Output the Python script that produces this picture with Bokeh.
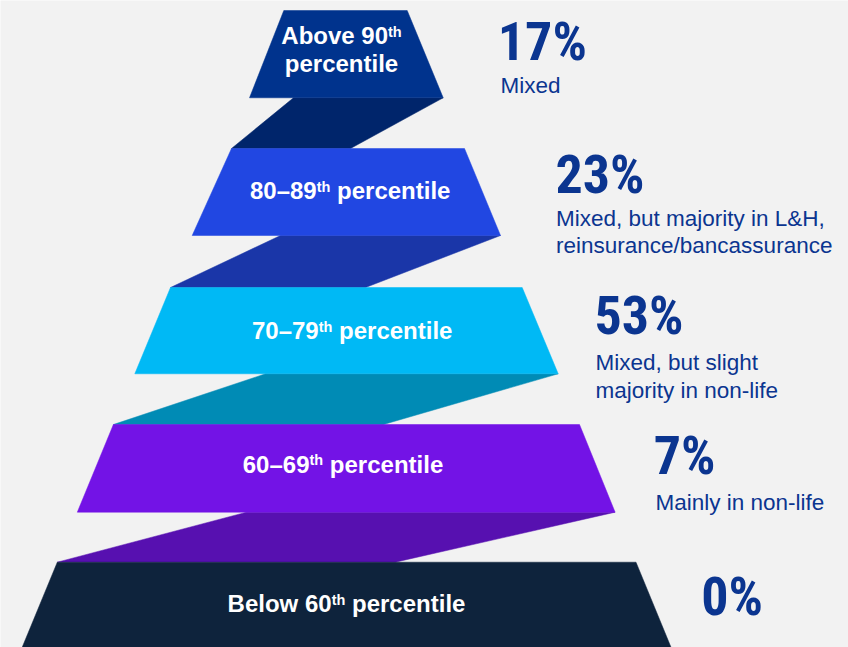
from bokeh.plotting import figure
from bokeh.models import Range1d
from bokeh.core.properties import value
from bokeh.embed import file_html
from bokeh.resources import INLINE

# ---------------- data ----------------
pre_labels = ["Above 90", "80\u201389", "70\u201379", "60\u201369", "Below 60"]
sup_labels = ["th", "th", "th", "th", "th"]
post_labels = ["", "percentile", "percentile", "percentile", "percentile"]
second_line = ["percentile", "", "", "", ""]
shares = [17, 23, 53, 7, 0]
descriptions = [
    ["Mixed"],
    ["Mixed, but majority in L&H,", "reinsurance/bancassurance"],
    ["Mixed, but slight", "majority in non-life"],
    ["Mainly in non-life"],
    [],
]

# ---------------- layout / style ----------------
BG = "#f2f2f2"
TXT = "#0b3590"
level_colors = ["#00338d", "#2147e2", "#00b9f5", "#7313e6", "#0e233c"]
ribbon_colors = ["#00256b", "#1a36a8", "#008bb5", "#5710b0"]

# trapezoids: top y, bottom y, top-left x, top-right x, bottom-left x, bottom-right x
traps = [
    (10.0, 97.3, 283.3, 406.7, 249.0, 442.7),
    (148.0, 235.0, 231.0, 464.0, 191.7, 500.0),
    (287.0, 373.3, 170.0, 521.7, 134.3, 557.7),
    (424.0, 511.7, 112.9, 579.0, 76.8, 614.6),
    (561.7, 647.0, 56.8, 635.5, 21.6, 670.6),
]
# ribbons: top-left x (on upper trap bottom), bottom-right x (on lower trap top)
ribbon_ends = [(293.0, 350.0), (280.0, 365.0), (265.0, 383.0), (246.0, 394.8)]

label_cx = [341.0, 349.7, 351.7, 342.5, 346.0]
label_base = [44.0, 199.0, 339.0, 472.7, 612.3]
line2_base = 71.7
MAIN_PX = 24.0
SUP_PX = 14.5
SUP_RAISE = 7.5

pct_x = [497.3, 555.0, 594.0, 653.3, 700.7]
pct_base = [61.0, 194.0, 335.0, 475.7, 616.0]
PCT_PX = 54.0
desc_x = [500.0, 555.5, 595.0, 655.0, 0.0]
desc_base = [93.3, 226.0, 370.7, 510.7, 0.0]
DESC_PX = 22.5
DESC_STEP = 27.5

# empirical baseline correction of the svg text renderer (em)
BFIX = 0.375

# Arial / Liberation Sans Bold advance widths (em)
W = {' ': 0.278, '\u2013': 0.556, 'A': 0.722, 'B': 0.722, 'b': 0.611, 'o': 0.611,
     'v': 0.556, 'e': 0.556, 'l': 0.278, 'w': 0.778, 'p': 0.611, 'r': 0.389,
     'c': 0.556, 'n': 0.611, 't': 0.333, 'i': 0.278, 'h': 0.611}
for d in "0123456789":
    W[d] = 0.556


def tw(s, px):
    return sum(W.get(ch, 0.556) for ch in s) * px


p = figure(width=848, height=647, x_range=Range1d(0, 848), y_range=Range1d(647, 0),
           output_backend="svg", toolbar_location=None, min_border=0)
p.axis.visible = False
p.grid.visible = False
p.outline_line_color = None
p.background_fill_color = BG
p.border_fill_color = BG

# ribbons
rxs, rys = [], []
for i, (tl, br) in enumerate(ribbon_ends):
    up = traps[i]
    lo = traps[i + 1]
    rxs.append([tl, up[5], br, lo[2]])
    rys.append([up[1], up[1], lo[0], lo[0]])
p.patches(rxs, rys, fill_color=ribbon_colors, line_color=ribbon_colors, line_width=0.5)

# trapezoids
txs, tys = [], []
for (ty, by, tl, tr, bl, br) in traps:
    txs.append([tl, tr, br, bl])
    tys.append([ty, ty, by, by])
p.patches(txs, tys, fill_color=level_colors, line_color=level_colors, line_width=0.5)

LBL_FONT = value("Liberation Sans")
SPACE = W[' '] * MAIN_PX


def put(x, y, t, px, **kw):
    p.text(x=x, y=[v - BFIX * px for v in y], text=t, text_font_size=f"{px}px",
           text_baseline="alphabetic", **kw)


# labels inside trapezoids
for i in range(len(pre_labels)):
    a, s, b = pre_labels[i], sup_labels[i], post_labels[i]
    total = tw(a, MAIN_PX) + tw(s, SUP_PX) + (SPACE + tw(b, MAIN_PX) if b else 0)
    x0 = label_cx[i] - total / 2
    y0 = label_base[i]
    put([x0], [y0], [a], MAIN_PX, text_color="white", text_font=LBL_FONT,
        text_font_style="bold", text_align="left")
    x1 = x0 + tw(a, MAIN_PX)
    put([x1], [y0 - SUP_RAISE], [s], SUP_PX, text_color="white", text_font=LBL_FONT,
        text_font_style="bold", text_align="left")
    if b:
        x2 = x1 + tw(s, SUP_PX) + SPACE
        put([x2], [y0], [b], MAIN_PX, text_color="white", text_font=LBL_FONT,
            text_font_style="bold", text_align="left")
    if second_line[i]:
        put([label_cx[i]], [line2_base], [second_line[i]], MAIN_PX, text_color="white",
            text_font=LBL_FONT, text_font_style="bold", text_align="center")

# percentages
put(pct_x, pct_base, [f"{v}%" for v in shares], PCT_PX, text_color=TXT,
    text_font=value("'Noto Sans ExtraCondensed', 'Noto Sans Condensed', 'Roboto Condensed', 'Liberation Sans Narrow', 'Roboto', sans-serif"),
    text_font_style="bold", text_align="left")

# descriptions
dx, dy, dt = [], [], []
for i, lines in enumerate(descriptions):
    for j, line in enumerate(lines):
        dx.append(desc_x[i])
        dy.append(desc_base[i] + j * DESC_STEP)
        dt.append(line)
put(dx, dy, dt, DESC_PX, text_color=TXT, text_font=value("Liberation Sans"),
    text_align="left")

html = file_html(p, INLINE)
html = html.replace("<body>", '<body style="background-color:#f2f2f2;">', 1)
open("out.html", "w").write(html)
